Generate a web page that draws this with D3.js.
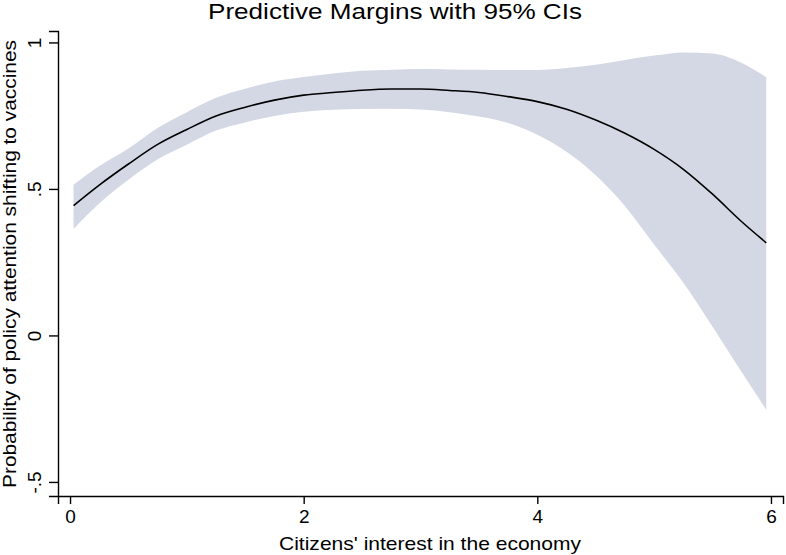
<!DOCTYPE html>
<html>
<head>
<meta charset="utf-8">
<script src="https://cdn.jsdelivr.net/npm/d3@7"></script>
<style>
body { margin: 0; background: #fff; }
text { font-family: "Liberation Sans", Arial, sans-serif; fill: #000; }
</style>
</head>
<body>
<div id="canvas"></div>
<script>
var interest = [0.03, 0.25, 0.5, 0.75, 1.0, 1.25, 1.5, 1.75, 2.0, 2.25, 2.5, 2.75, 3.0,
	3.25, 3.5, 3.75, 4.0, 4.25, 4.5, 4.75, 5.0, 5.25, 5.5, 5.75, 5.96];
var margin = [0.443, 0.513, 0.585, 0.652, 0.703, 0.749, 0.779, 0.803, 0.820, 0.829, 0.837, 0.841, 0.841,
	0.836, 0.829, 0.815, 0.798, 0.772, 0.735, 0.690, 0.635, 0.567, 0.482, 0.388, 0.316];
var ciUpper = [0.514, 0.578, 0.638, 0.708, 0.762, 0.811, 0.842, 0.867, 0.882, 0.894, 0.903, 0.907, 0.909,
	0.908, 0.907, 0.906, 0.906, 0.913, 0.924, 0.940, 0.955, 0.966, 0.962, 0.930, 0.881];
var ciLower = [0.363, 0.450, 0.531, 0.601, 0.651, 0.699, 0.727, 0.749, 0.763, 0.770, 0.773, 0.774, 0.771,
	0.762, 0.747, 0.725, 0.685, 0.627, 0.547, 0.442, 0.310, 0.180, 0.030, -0.126, -0.254];
var xTicks = [0, 2, 4, 6];
var yTicks = [-0.5, 0, 0.5, 1];

var width = 786, height = 555;

var svg = d3.select("#canvas")
	.append("svg")
	.attr("width", width)
	.attr("height", height);

var x = d3.scaleLinear().domain([-0.103, 6.103]).range([58, 783]);
var y = d3.scaleLinear().domain([-0.548, 1.039]).range([496, 31]);

var pts = interest.map(function(d, i) {
	return {x: d, m: margin[i], lo: ciLower[i], hi: ciUpper[i]};
});

// confidence band
var area = d3.area()
	.x(function(d) { return x(d.x); })
	.y0(function(d) { return y(d.lo); })
	.y1(function(d) { return y(d.hi); })
	.curve(d3.curveMonotoneX);

svg.append("path")
	.datum(pts)
	.attr("d", area)
	.attr("fill", "#d3d8e4");

// predicted margin
var line = d3.line()
	.x(function(d) { return x(d.x); })
	.y(function(d) { return y(d.m); })
	.curve(d3.curveMonotoneX);

svg.append("path")
	.datum(pts)
	.attr("d", line)
	.attr("fill", "none")
	.attr("stroke", "#000")
	.attr("stroke-width", 1.6);

// axes
function fmt(v) {
	if (v === 0) return "0";
	return String(v).replace("0.", ".");
}

var xAxis = svg.append("g")
	.attr("transform", "translate(0,496)")
	.call(d3.axisBottom(x).tickValues(xTicks).tickSizeOuter(0).tickSize(8).tickPadding(6).tickFormat(fmt));

var yAxis = svg.append("g")
	.attr("transform", "translate(58,0)")
	.call(d3.axisLeft(y).tickValues(yTicks).tickSizeOuter(0).tickSize(9).tickFormat(fmt));

[xAxis, yAxis].forEach(function(g) {
	g.select(".domain").attr("stroke", "#000").attr("stroke-width", 1.4);
	g.selectAll(".tick line").attr("stroke", "#000").attr("stroke-width", 1.4);
	g.selectAll("text").attr("font-size", 19).attr("font-family", "Liberation Sans, Arial, sans-serif");
});

yAxis.selectAll(".tick text")
	.attr("x", null)
	.attr("dy", null)
	.attr("text-anchor", "middle")
	.attr("transform", "translate(-17,0) rotate(-90)");

// titles
svg.append("text")
	.attr("x", 395)
	.attr("y", 19)
	.attr("text-anchor", "middle")
	.attr("font-size", 22)
	.attr("textLength", 374)
	.attr("lengthAdjust", "spacingAndGlyphs")
	.text("Predictive Margins with 95% CIs");

svg.append("text")
	.attr("x", 430)
	.attr("y", 550)
	.attr("text-anchor", "middle")
	.attr("font-size", 19)
	.attr("textLength", 302)
	.attr("lengthAdjust", "spacingAndGlyphs")
	.text("Citizens' interest in the economy");

svg.append("text")
	.attr("transform", "translate(16,264) rotate(-90)")
	.attr("text-anchor", "middle")
	.attr("font-size", 19)
	.attr("textLength", 448)
	.attr("lengthAdjust", "spacingAndGlyphs")
	.text("Probability of policy attention shifting to vaccines");
</script>
</body>
</html>
